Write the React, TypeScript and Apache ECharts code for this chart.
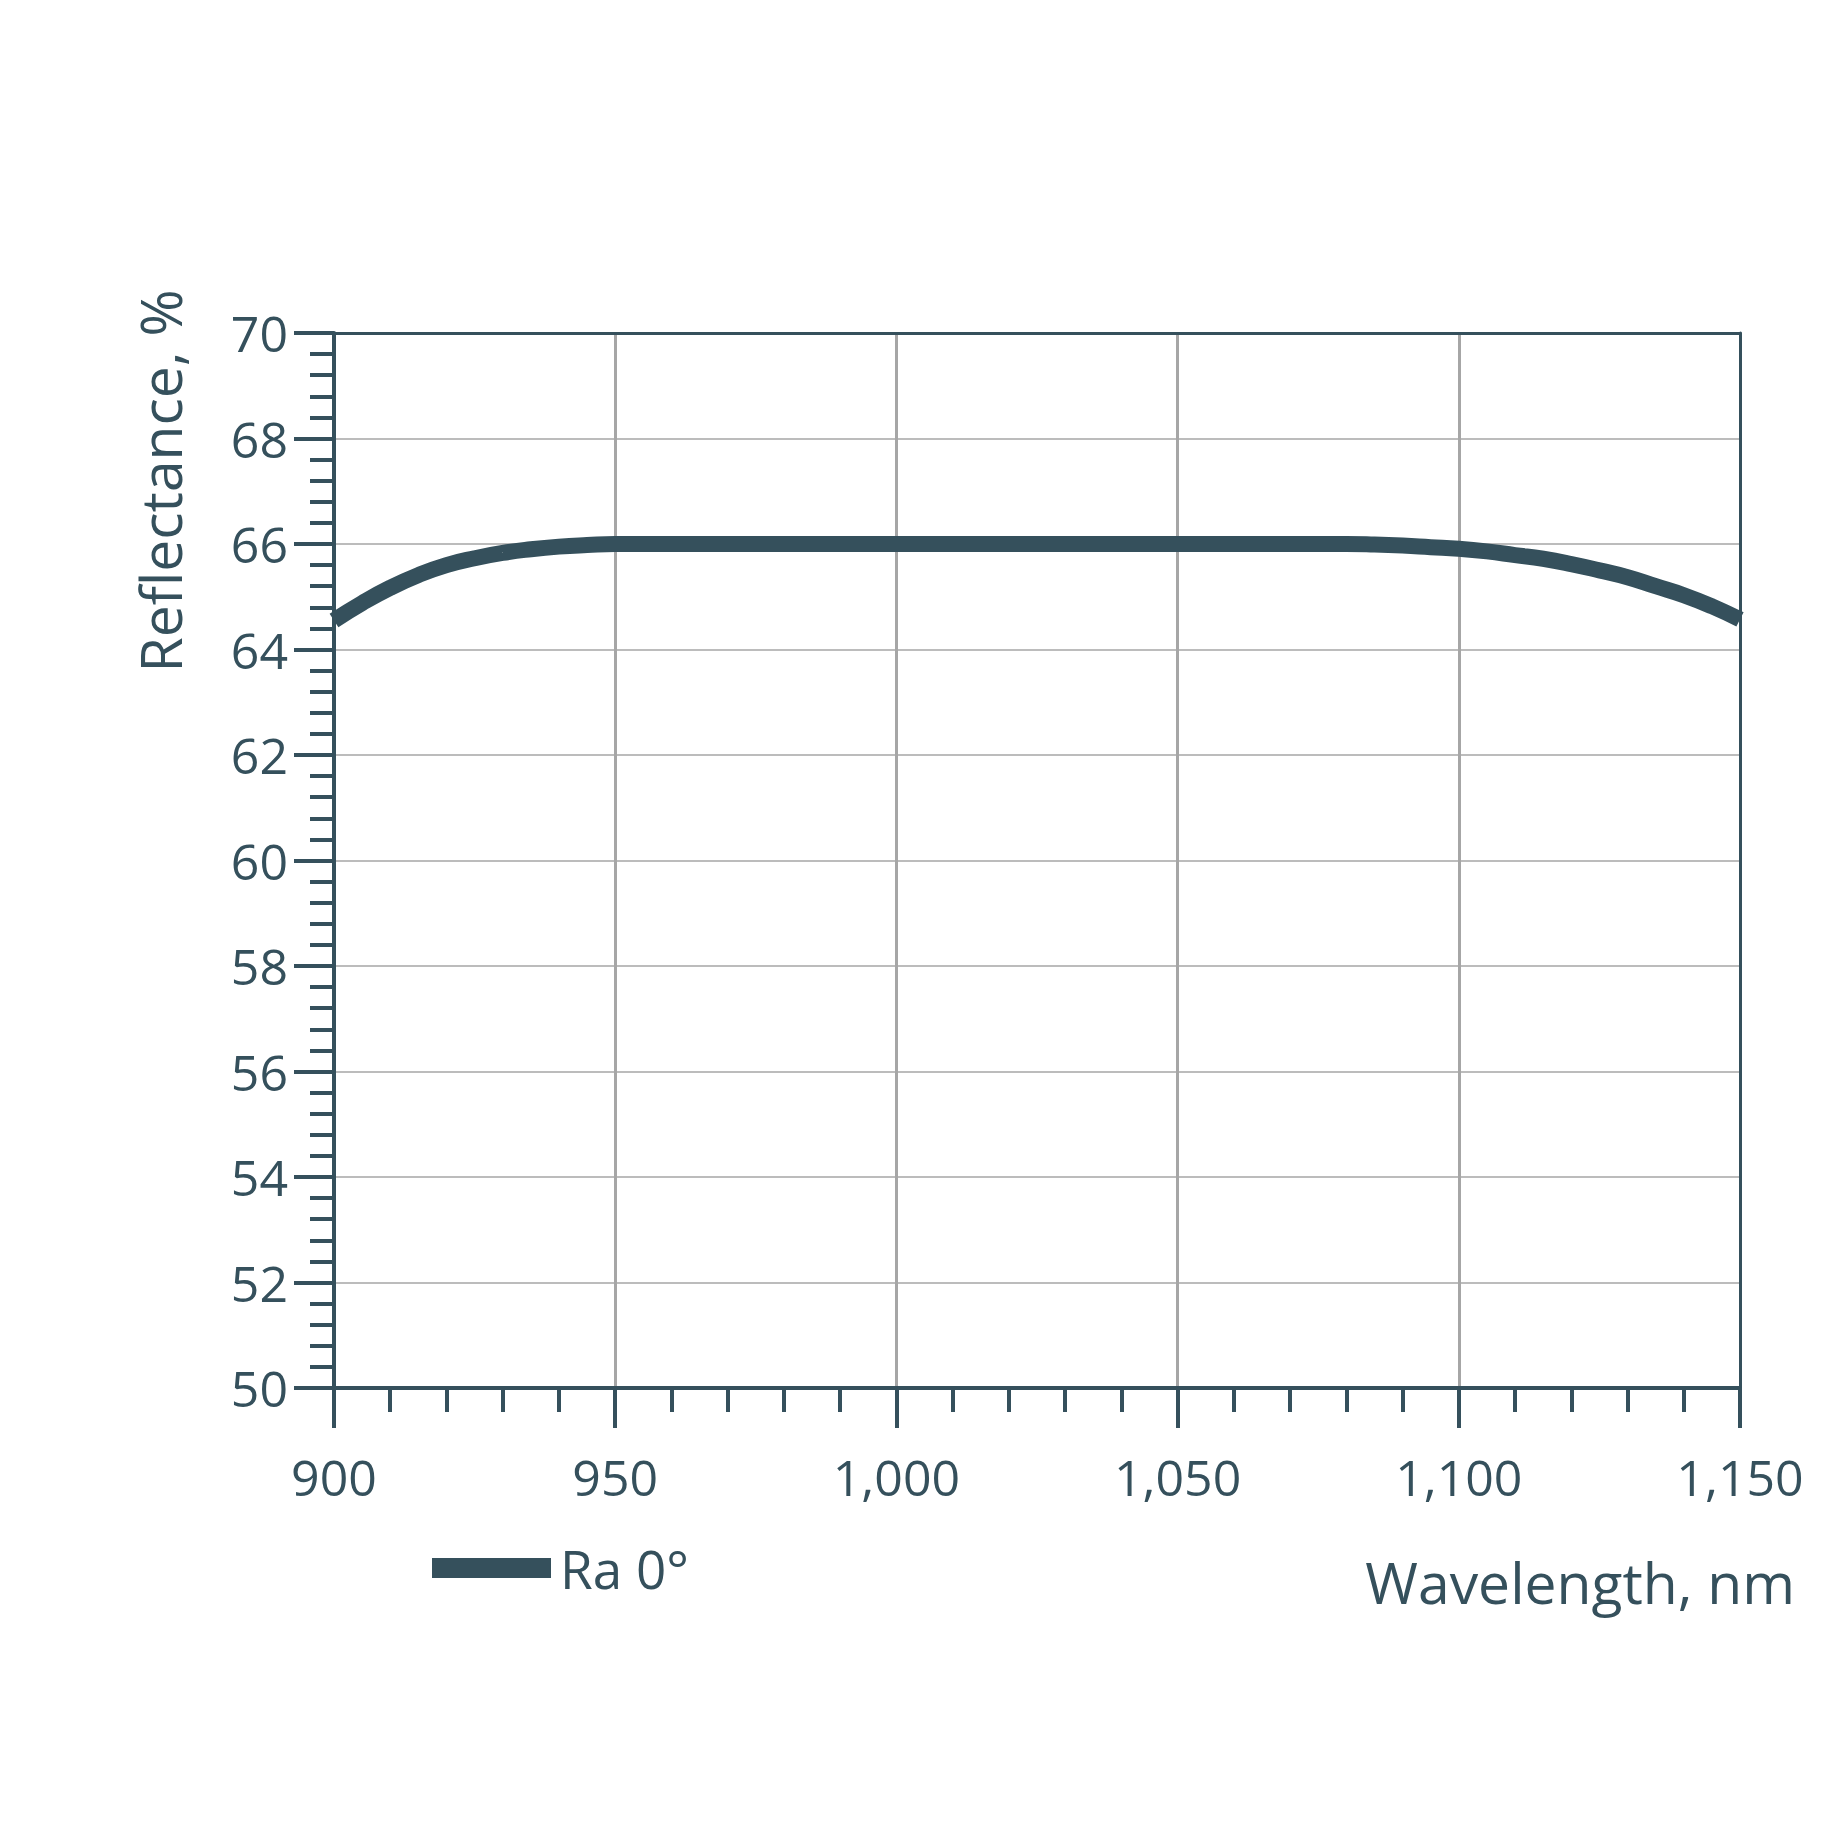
import React from 'react';
import * as echarts from 'echarts';

// wavelength, nm
const wavelengths = [
  900, 905, 910, 915, 920, 925, 930, 935, 940, 945, 950, 955, 960, 965, 970, 975, 980,
  985, 990, 995, 1000, 1005, 1010, 1015, 1020, 1025, 1030, 1035, 1040, 1045, 1050, 1055,
  1060, 1065, 1070, 1075, 1080, 1085, 1090, 1095, 1100, 1105, 1110, 1115, 1120, 1125,
  1130, 1135, 1140, 1145, 1150,
];

// Ra 0°, %
const reflectance = [
  64.55, 64.88, 65.17, 65.41, 65.6, 65.73, 65.83, 65.9, 65.95, 65.98, 66.0, 66.0, 66.0,
  66.0, 66.0, 66.0, 66.0, 66.0, 66.0, 66.0, 66.0, 66.0, 66.0, 66.0, 66.0, 66.0, 66.0,
  66.0, 66.0, 66.0, 66.0, 66.0, 66.0, 66.0, 66.0, 66.0, 66.0, 65.99, 65.97, 65.94, 65.91,
  65.86, 65.79, 65.72, 65.62, 65.5, 65.37, 65.2, 65.03, 64.82, 64.57,
];

const seriesName = 'Ra 0°';
const xName = 'Wavelength, nm';
const yName = 'Reflectance, %';

const ink = '#35505c';
const font = '"Open Sans", "Noto Sans", sans-serif';

// plain dark frame line for the top / right sides of the plot
const frameAxis = {
  show: true,
  type: 'value',
  axisLine: { show: true, lineStyle: { color: ink, width: 3 } },
  axisTick: { show: false },
  axisLabel: { show: false },
  splitLine: { show: false },
};

const App = () => {
  const chartRef = React.useRef(null);

  React.useEffect(() => {
    const myChart = echarts.init(chartRef.current, null, { renderer: 'svg' });

    const option: any = {
      animation: false,
      backgroundColor: '#ffffff',
      textStyle: { fontFamily: font, color: ink },
      grid: {
        left: 326,
        top: 325,
        right: 100,
        bottom: 452,
      },
      legend: {
        data: [seriesName],
        left: 419,
        top: 1525,
        icon: 'rect',
        itemWidth: 119,
        itemHeight: 20,
        textStyle: { fontSize: 53, lineHeight: 60, color: ink, fontFamily: font, padding: [0, 0, 0, 4] },
      },
      xAxis: [
        {
          type: 'value',
          min: 900,
          max: 1150,
          interval: 50,
          axisLine: { show: true, lineStyle: { color: ink, width: 4 } },
          axisTick: { show: true, length: 40, lineStyle: { color: ink, width: 4 } },
          minorTick: { show: true, splitNumber: 5, length: 24, lineStyle: { color: ink, width: 4 } },
          splitLine: { show: true, lineStyle: { color: '#a6a6a6', width: 3 } },
          axisLabel: {
            margin: 64,
            fontSize: 50,
            color: ink,
            fontFamily: font,
            showMinLabel: true,
            showMaxLabel: true,
            formatter: (v: number) => v.toLocaleString('en-US'),
          },
        },
        { ...frameAxis, position: 'top', min: 900, max: 1150 },
      ],
      yAxis: [
        {
          type: 'value',
          min: 50,
          max: 70,
          interval: 2,
          axisLine: { show: true, lineStyle: { color: ink, width: 4 } },
          axisTick: { show: true, length: 40, lineStyle: { color: ink, width: 4 } },
          minorTick: { show: true, splitNumber: 5, length: 24, lineStyle: { color: ink, width: 4 } },
          splitLine: { show: true, lineStyle: { color: '#bcbcbc', width: 2 } },
          axisLabel: {
            margin: 46,
            fontSize: 50,
            color: ink,
            fontFamily: font,
            showMinLabel: true,
            showMaxLabel: true,
          },
        },
        { ...frameAxis, position: 'right', min: 50, max: 70 },
      ],
      graphic: [
        {
          type: 'text',
          x: 152,
          y: 473,
          rotation: Math.PI / 2,
          style: {
            text: yName,
            fontSize: 57,
            fontFamily: font,
            fill: ink,
            align: 'center',
            verticalAlign: 'middle',
          },
        },
        {
          type: 'text',
          x: 1787,
          y: 1574,
          style: {
            text: xName,
            fontSize: 57,
            fontFamily: font,
            fill: ink,
            align: 'right',
            verticalAlign: 'middle',
          },
        },
      ],
      series: [
        {
          name: seriesName,
          type: 'line',
          smooth: true,
          showSymbol: false,
          color: ink,
          lineStyle: { color: ink, width: 16 },
          data: wavelengths.map((w, i) => [w, reflectance[i]]),
        },
      ],
    };

    myChart.setOption(option);

    return () => {
      myChart.dispose();
    };
  }, []);

  return <div ref={chartRef} style={{ width: '1832px', height: '1832px' }} />;
};

export default App;
